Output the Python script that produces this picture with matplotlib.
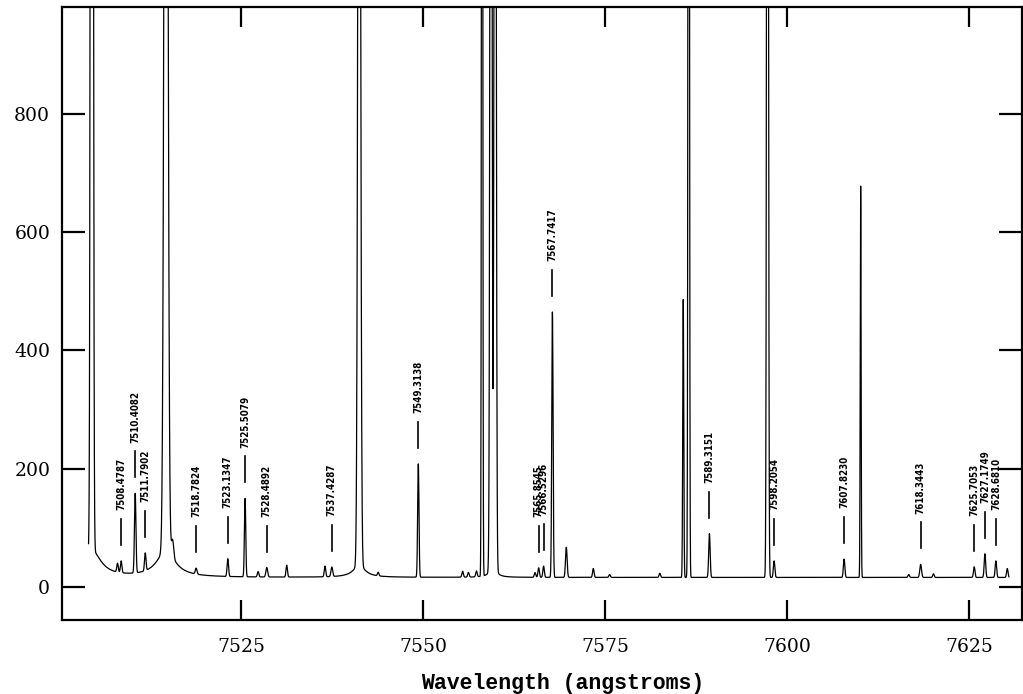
import numpy as np
import matplotlib
matplotlib.use("Agg")
import matplotlib.pyplot as plt
from matplotlib import font_manager

# identified lines (the ones with a label and a mark)
id_wave = [7508.4787, 7510.4082, 7511.7902, 7518.7824, 7523.1347, 7525.5079,
           7528.4892, 7537.4287, 7549.3138, 7565.8545, 7566.5296, 7567.7417,
           7589.3151, 7598.2054, 7607.8230, 7618.3443, 7625.7053, 7627.1749,
           7628.6810]
id_height = [20, 135, 30, 10, 30, 133, 16, 16, 192, 16, 19, 449,
             74, 28, 31, 22, 18, 40, 28]
id_sigma = [0.1, 0.1, 0.1, 0.12, 0.1, 0.09, 0.12, 0.12, 0.09, 0.1, 0.1, 0.09,
            0.1, 0.1, 0.1, 0.12, 0.1, 0.1, 0.1]

# other emission lines (not labelled)
other_wave = [7504.45, 7514.64, 7515.55, 7541.19, 7558.08, 7559.30, 7559.87,
              7585.72, 7586.47, 7597.30, 7610.10, 7569.65, 7630.25, 7507.98,
              7527.30, 7531.23, 7536.49, 7543.80, 7555.40, 7556.20, 7557.30,
              7565.35, 7573.36, 7575.60, 7582.50, 7616.70, 7620.10]
other_height = [6000, 2420, 30, 2200, 3000, 2500, 2500,
                470, 3000, 3000, 662, 51, 15, 15,
                9, 20, 18, 6, 10, 8, 10,
                8, 15, 5, 7, 5, 6]
other_sigma = [0.13, 0.223, 0.15, 0.165, 0.07, 0.12, 0.12,
               0.07, 0.08, 0.1, 0.06, 0.11, 0.1, 0.1,
               0.1, 0.1, 0.1, 0.1, 0.1, 0.1, 0.1,
               0.1, 0.1, 0.1, 0.1, 0.1, 0.1]

# broad wings of the strong lines
wing_wave = [7504.45, 7514.64, 7541.19, 7559.58]
wing_amp = [45, 45, 20, 20]
wing_gamma = [1.5, 1.5, 1.0, 0.5]

CONTINUUM = 16
WAVE_START = 7504.0
WAVE_END = 7630.5

xticks = [7525, 7550, 7575, 7600, 7625]
yticks = [0, 200, 400, 600, 800]


def model(w):
    f = np.full_like(w, CONTINUUM, dtype=float)
    for c, h, s in zip(id_wave + other_wave, id_height + other_height,
                       id_sigma + other_sigma):
        f += h * np.exp(-0.5 * ((w - c) / s) ** 2)
    for c, a, g in zip(wing_wave, wing_amp, wing_gamma):
        f += a * g ** 2 / ((w - c) ** 2 + g ** 2)
    return f


wave = np.arange(WAVE_START, WAVE_END, 0.02)
flux = model(wave)

# font for the line ids (narrow if we can find one)
try:
    font_manager.findfont("Liberation Sans Narrow", fallback_to_default=False)
    id_font = dict(family="Liberation Sans Narrow", size=8.5, weight="bold")
except Exception:
    id_font = dict(family="DejaVu Sans", size=7, weight="bold",
                   stretch="condensed")

fig = plt.figure(figsize=(10.23, 6.94), dpi=100)
ax = fig.add_axes([62 / 1023, 74 / 694, 960 / 1023, 613 / 694])
ax.plot(wave, flux, color="black", lw=0.9)

ax.set_xlim(7500.35, 7632.27)
ax.set_ylim(-56, 981)

# marks + labels above each identified line
for w in id_wave:
    near = np.abs(wave - w) < 0.15
    peak = flux[near].max()
    ax.plot([w, w], [peak + 27, peak + 71], color="black", lw=1.2)
    ax.text(w, peak + 86, f"{w:.4f}", rotation=90, ha="center", va="bottom",
            **id_font)

ax.set_xticks(xticks)
ax.set_yticks(yticks)
ax.tick_params(axis="both", direction="in", width=1.6, top=True, right=True)
ax.tick_params(axis="x", length=14.5, pad=13)
ax.tick_params(axis="y", length=16.5, pad=8.5)
for lab in ax.get_xticklabels() + ax.get_yticklabels():
    lab.set_family("DejaVu Serif")
    lab.set_fontsize(13.5)
for sp in ax.spines.values():
    sp.set_linewidth(1.6)

ax.set_xlabel("Wavelength (angstroms)", family="Liberation Mono", size=15.5,
              weight="bold")
ax.xaxis.set_label_coords(0.522, -0.086)
ax.xaxis.label.set_va("top")

fig.savefig("out.png", dpi=100)
